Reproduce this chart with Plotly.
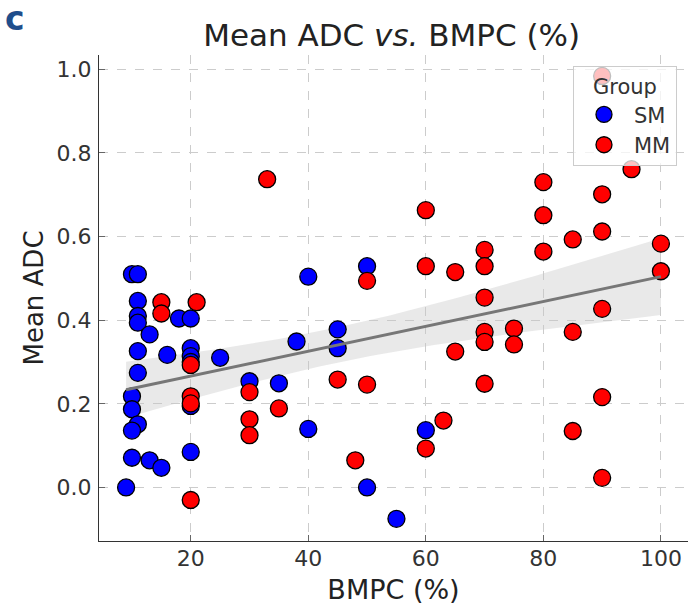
import numpy as np
import plotly.graph_objects as go

# SM group
sm_bmpc = [10, 11, 11, 11, 11, 18, 20, 13, 11, 16, 20, 20, 20, 25, 38, 40, 11, 10, 10, 11,
           10, 20, 30, 35, 40, 10, 13, 15, 20, 9, 50, 45, 45, 60, 50, 55]
sm_adc = [0.51, 0.51, 0.446, 0.41, 0.394, 0.404, 0.404, 0.366, 0.326, 0.317, 0.333, 0.314, 0.30,
          0.31, 0.349, 0.504, 0.274, 0.218, 0.187, 0.151, 0.136, 0.195, 0.254, 0.249, 0.14,
          0.071, 0.065, 0.047, 0.085, 0.0, 0.529, 0.378, 0.333, 0.137, 0.0, -0.075]

# MM group
mm_bmpc = [15, 21, 15, 20, 20, 20, 30, 35, 30, 30, 20, 33, 60, 50, 60, 65, 70, 70, 70, 70, 70,
           75, 75, 65, 45, 50, 70, 63, 60, 48, 90, 95, 80, 90, 80, 85, 90, 80, 100, 100, 90,
           85, 90, 85, 90]
mm_adc = [0.443, 0.443, 0.416, 0.293, 0.218, 0.201, 0.228, 0.189, 0.163, 0.125, -0.03, 0.737,
          0.663, 0.494, 0.529, 0.515, 0.568, 0.529, 0.454, 0.372, 0.348, 0.38, 0.342, 0.325,
          0.258, 0.246, 0.248, 0.16, 0.093, 0.065, 0.984, 0.761, 0.73, 0.701, 0.651, 0.593,
          0.612, 0.564, 0.583, 0.517, 0.427, 0.372, 0.216, 0.135, 0.023]

group_names = ["SM", "MM"]
group_colors = ["#0000ff", "#ff0000"]

# Linear regression with 95% CI over all points
x_all = np.array(sm_bmpc + mm_bmpc, dtype=float)
y_all = np.array(sm_adc + mm_adc, dtype=float)
n = len(x_all)
slope, intercept = np.polyfit(x_all, y_all, 1)
xg = np.linspace(x_all.min(), x_all.max(), 100)
yg = intercept + slope * xg
resid = y_all - (intercept + slope * x_all)
s = np.sqrt(np.sum(resid ** 2) / (n - 2))
sxx = np.sum((x_all - x_all.mean()) ** 2)
se = s * np.sqrt(1.0 / n + (xg - x_all.mean()) ** 2 / sxx)
tval = 1.99
upper = yg + tval * se
lower = yg - tval * se

fig = go.Figure()

fig.add_trace(go.Scatter(
    x=np.concatenate([xg, xg[::-1]]), y=np.concatenate([upper, lower[::-1]]),
    fill="toself", fillcolor="rgba(200,200,200,0.4)", line=dict(width=0),
    mode="lines", showlegend=False, hoverinfo="skip"))

for name, xs, ys, col in [(group_names[0], sm_bmpc, sm_adc, group_colors[0]),
                          (group_names[1], mm_bmpc, mm_adc, group_colors[1])]:
    fig.add_trace(go.Scatter(
        x=xs, y=ys, mode="markers", name=name,
        marker=dict(size=17, color=col, line=dict(color="black", width=1.3))))

fig.add_trace(go.Scatter(
    x=xg, y=yg, mode="lines", line=dict(color="#777777", width=3),
    showlegend=False, hoverinfo="skip"))

axis_common = dict(
    showgrid=True, gridcolor="#cccccc", griddash="dash", gridwidth=1,
    showline=True, linecolor="#333333", linewidth=1.2,
    ticks="inside", ticklen=6, tickcolor="#666666",
    zeroline=False, mirror=False, automargin=False,
    tickfont=dict(family="DejaVu Sans", size=22, color="#333333"),
)

fig.update_xaxes(range=[4.39, 104.61], tickvals=[20, 40, 60, 80, 100],
                 ticklabelstandoff=-3,
                 title=dict(text="BMPC (%)", font=dict(family="DejaVu Sans", size=27, color="#222222"),
                            standoff=14),
                 **axis_common)
fig.update_yaxes(range=[-0.128, 1.034], tickvals=[0.0, 0.2, 0.4, 0.6, 0.8, 1.0],
                 tickformat=".1f", ticklabelstandoff=2,
                 title=dict(text="Mean ADC", font=dict(family="DejaVu Sans", size=26, color="#222222"),
                            standoff=5),
                 **axis_common)

fig.update_layout(
    width=691, height=605,
    margin=dict(l=99, r=3, t=55, b=64),
    plot_bgcolor="white", paper_bgcolor="white",
    font=dict(family="DejaVu Sans", color="#222222"),
    title=dict(text="Mean ADC <i>vs.</i> BMPC (%)", x=0.5668, xanchor="center",
               y=0.942, yanchor="middle", yref="container",
               font=dict(family="DejaVu Sans", size=31, color="#222222")),
    legend=dict(title=dict(text="Group", side="top center",
                           font=dict(family="DejaVu Sans", size=21, color="#333333")),
                font=dict(family="DejaVu Sans", size=21, color="#333333"),
                itemwidth=50,
                x=0.9813, y=0.9774, xanchor="right", yanchor="top",
                bgcolor="rgba(255,255,255,0.75)", bordercolor="#cccccc", borderwidth=1),
    annotations=[dict(text="<b>c</b>", x=-0.163, y=1.075, xref="paper", yref="paper",
                      xanchor="left", yanchor="middle", showarrow=False,
                      font=dict(family="DejaVu Sans", size=33, color="#1f4e8c"))],
)

fig.write_html("out.html", config={"displayModeBar": False},
               post_script="document.body.style.margin='0px';")
